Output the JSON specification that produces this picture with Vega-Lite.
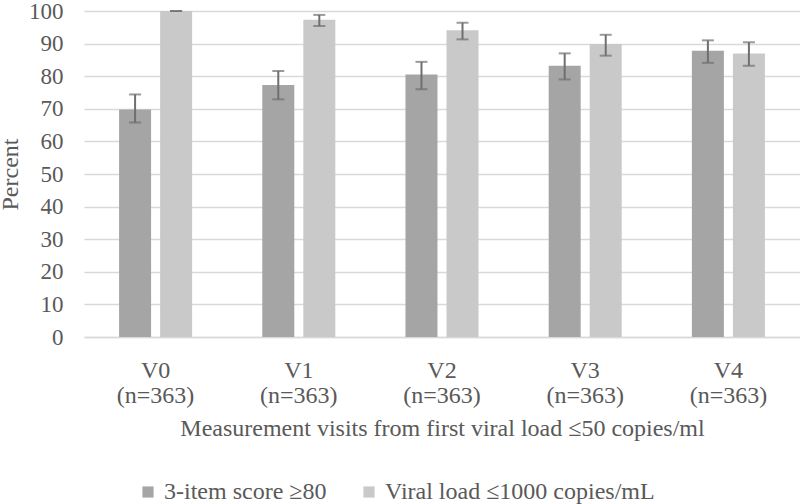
{
  "$schema": "https://vega.github.io/schema/vega-lite/v6.json",
  "autosize": {"type": "none"},
  "width": 716,
  "height": 326,
  "padding": {"left": 84, "top": 11, "right": 0, "bottom": 167},
  "background": "white",
  "config": {
    "font": "Liberation Serif",
    "view": {"stroke": null},
    "axis": {"labelFont": "Liberation Serif", "titleFont": "Liberation Serif", "labelColor": "#595959", "titleColor": "#595959", "labelFontSize": 24, "titleFontSize": 24, "titleFontWeight": "normal"},
    "legend": {"labelFont": "Liberation Serif", "labelFontSize": 24, "labelColor": "#595959", "labelLimit": 500}
  },
  "data": {
    "values": [
      {"visit": "V0 (n=363)", "series": "3-item score ≥80", "value": 69.8, "lo": 65.8, "hi": 74.4},
      {"visit": "V0 (n=363)", "series": "Viral load ≤1000 copies/mL", "value": 100, "lo": 100, "hi": 100},
      {"visit": "V1 (n=363)", "series": "3-item score ≥80", "value": 77.3, "lo": 72.9, "hi": 81.6},
      {"visit": "V1 (n=363)", "series": "Viral load ≤1000 copies/mL", "value": 97.3, "lo": 95.4, "hi": 98.8},
      {"visit": "V2 (n=363)", "series": "3-item score ≥80", "value": 80.5, "lo": 76.0, "hi": 84.4},
      {"visit": "V2 (n=363)", "series": "Viral load ≤1000 copies/mL", "value": 94.1, "lo": 91.3, "hi": 96.4},
      {"visit": "V3 (n=363)", "series": "3-item score ≥80", "value": 83.2, "lo": 79.0, "hi": 87.0},
      {"visit": "V3 (n=363)", "series": "Viral load ≤1000 copies/mL", "value": 89.9, "lo": 86.3, "hi": 92.7},
      {"visit": "V4 (n=363)", "series": "3-item score ≥80", "value": 87.8, "lo": 84.1, "hi": 91.0},
      {"visit": "V4 (n=363)", "series": "Viral load ≤1000 copies/mL", "value": 87.0, "lo": 83.2, "hi": 90.4}
    ]
  },
  "encoding": {
    "x": {
      "field": "visit", "type": "nominal", "sort": null,
      "scale": {"paddingInner": 0.49, "paddingOuter": 0.245},
      "axis": {
        "title": "Measurement visits from first viral load ≤50 copies/ml",
        "labelAngle": 0, "ticks": false, "domainColor": "#d9d9d9", "domainWidth": 1.5,
        "labelPadding": 21, "titlePadding": 9, "labelLineHeight": 25,
        "labelExpr": "split(datum.label, ' ')"
      }
    },
    "xOffset": {"field": "series", "type": "nominal", "scale": {"paddingInner": 0.22}}
  },
  "layer": [
    {
      "mark": {"type": "bar"},
      "encoding": {
        "y": {
          "field": "value", "type": "quantitative",
          "scale": {"domain": [0, 100], "nice": false},
          "axis": {"title": "Percent", "tickCount": 10, "domain": false, "ticks": false, "labelFontSize": 23, "labelPadding": 21, "labelOverlap": false, "labelFlush": false, "gridColor": "#d9d9d9", "gridWidth": 1.5, "titlePadding": 6}
        },
        "color": {
          "field": "series", "type": "nominal",
          "scale": {"range": ["#a5a5a5", "#c9c9c9"]},
          "legend": {"title": null, "orient": "none", "direction": "horizontal", "legendX": 52, "legendY": 469, "symbolType": "square", "symbolSize": 125, "symbolStrokeWidth": 0, "symbolOpacity": 1, "columnPadding": 30, "labelOffset": 4}
        }
      }
    },
    {
      "mark": {"type": "rule", "color": "#6f6f6f", "strokeWidth": 2},
      "encoding": {"y": {"field": "lo", "type": "quantitative"}, "y2": {"field": "hi"}}
    },
    {
      "mark": {"type": "tick", "color": "#6f6f6f", "thickness": 2, "size": 12},
      "encoding": {"y": {"field": "lo", "type": "quantitative"}}
    },
    {
      "mark": {"type": "tick", "color": "#6f6f6f", "thickness": 2, "size": 12},
      "encoding": {"y": {"field": "hi", "type": "quantitative"}}
    }
  ]
}
